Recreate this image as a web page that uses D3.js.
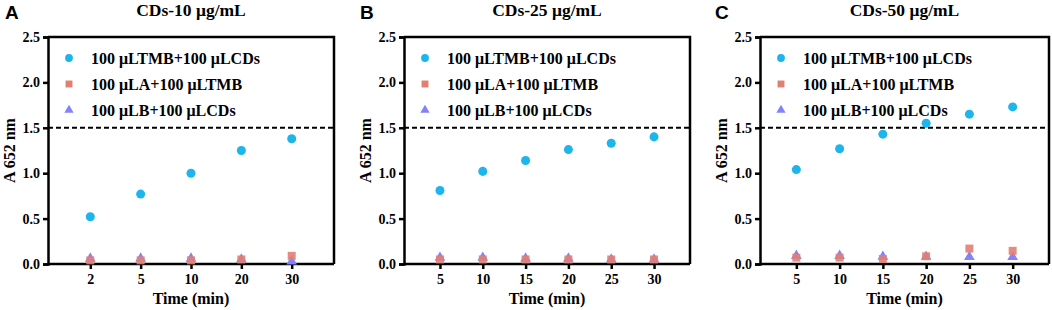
<!DOCTYPE html>
<html>
<head>
<meta charset="utf-8">
<script src="https://cdn.jsdelivr.net/npm/d3@7/dist/d3.min.js"></script>
<style>
  body { margin: 0; background: #fff; }
  svg text { font-family: "Liberation Serif", "Times New Roman", serif; font-weight: bold; fill: #000; }
</style>
</head>
<body>
<svg id="chart" width="1052" height="310"></svg>
<script>
// panel data
const panelLetters = ["A", "B", "C"];
const panelTitles = ["CDs-10 μg/mL", "CDs-25 μg/mL", "CDs-50 μg/mL"];
const timesA = ["2", "5", "10", "20", "30"];
const timesB = ["5", "10", "15", "20", "25", "30"];
const timesC = ["5", "10", "15", "20", "25", "30"];

const tmbCdsA = [0.52, 0.77, 1.00, 1.25, 1.38];
const laTmbA  = [0.04, 0.04, 0.04, 0.05, 0.09];
const lbCdsA  = [0.06, 0.06, 0.06, 0.05, 0.03];

const tmbCdsB = [0.81, 1.02, 1.14, 1.26, 1.33, 1.40];
const laTmbB  = [0.05, 0.05, 0.05, 0.05, 0.05, 0.05];
const lbCdsB  = [0.07, 0.07, 0.06, 0.06, 0.05, 0.05];

const tmbCdsC = [1.04, 1.27, 1.43, 1.55, 1.65, 1.73];
const laTmbC  = [0.07, 0.07, 0.055, 0.085, 0.17, 0.145];
const lbCdsC  = [0.09, 0.09, 0.08, 0.08, 0.077, 0.077];

const seriesNames = ["100 μLTMB+100 μLCDs", "100 μLA+100 μLTMB", "100 μLB+100 μLCDs"];
const yTicks = [0.0, 0.5, 1.0, 1.5, 2.0, 2.5];
const thresholdValue = 1.5;

const colors = ["#1cb5ec", "#e17f73", "#8282fa"];
const symbols = [d3.symbolCircle, d3.symbolSquare, d3.symbolTriangle];
const symbolSizes = [64, 64, 50];

const panels = [
    {times: timesA, values: [tmbCdsA, laTmbA, lbCdsA], left: 48, right: 334, letterX: 5},
    {times: timesB, values: [tmbCdsB, laTmbB, lbCdsB], left: 404, right: 690, letterX: 360},
    {times: timesC, values: [tmbCdsC, laTmbC, lbCdsC], left: 760, right: 1049, letterX: 715}
];
const plotTop = 37, plotBottom = 264;

const svg = d3.select("#chart");

panels.forEach((p, pi) => {
    const g = svg.append("g");
    const x = d3.scalePoint().domain(p.times).range([p.left, p.right]).padding(0.84);
    const y = d3.scaleLinear().domain([0, 2.5]).range([plotBottom, plotTop]);

    // panel letter
    g.append("text")
        .attr("x", p.letterX)
        .attr("y", 19)
        .style("font-family", "'Liberation Sans', Arial, sans-serif")
        .attr("font-size", 19)
        .text(panelLetters[pi]);

    // title
    g.append("text")
        .attr("x", (p.left + p.right) / 2)
        .attr("y", 16)
        .attr("text-anchor", "middle")
        .attr("font-size", 17.5)
        .text(panelTitles[pi]);

    // frame top / right
    g.append("path")
        .attr("d", `M${p.left},${plotTop}H${p.right}V${plotBottom}`)
        .attr("fill", "none")
        .attr("stroke", "#000")
        .attr("stroke-width", 2.5);

    // y axis
    const yAxis = g.append("g")
        .attr("transform", `translate(${p.left},0)`)
        .call(d3.axisLeft(y).tickValues(yTicks).tickFormat(d3.format(".1f")).tickSize(5).tickPadding(3));
    yAxis.select(".domain").attr("stroke-width", 2.5);
    yAxis.selectAll(".tick line").attr("stroke-width", 2.5);
    yAxis.selectAll("text").attr("font-size", 14);

    // x axis
    const xAxis = g.append("g")
        .attr("transform", `translate(0,${plotBottom})`)
        .call(d3.axisBottom(x).tickSize(5).tickPadding(5).tickSizeOuter(0));
    xAxis.select(".domain").attr("stroke-width", 2.5)
        .attr("d", `M${p.left},0H${p.right}`);
    xAxis.selectAll(".tick line").attr("stroke-width", 2.5);
    xAxis.selectAll("text").attr("font-size", 14);

    // axis titles
    g.append("text")
        .attr("transform", `translate(${p.left - 33},${(plotTop + plotBottom) / 2}) rotate(-90)`)
        .attr("text-anchor", "middle")
        .attr("font-size", 16)
        .text("A 652 nm");

    g.append("text")
        .attr("x", (p.left + p.right) / 2)
        .attr("y", 304)
        .attr("text-anchor", "middle")
        .attr("font-size", 16)
        .text("Time (min)");

    // dashed threshold line
    g.append("line")
        .attr("x1", p.left).attr("x2", p.right)
        .attr("y1", y(thresholdValue)).attr("y2", y(thresholdValue))
        .attr("stroke", "#000")
        .attr("stroke-width", 2)
        .attr("stroke-dasharray", "5,3");

    // points: circles, triangles then squares on top
    [0, 2, 1].forEach((si) => {
        g.append("g").selectAll("path")
            .data(p.values[si])
            .enter()
            .append("path")
            .attr("d", d3.symbol().type(symbols[si]).size(symbolSizes[si]))
            .attr("transform", (d, i) => "translate(" + x(p.times[i]) + "," + y(d) + ")")
            .attr("fill", colors[si])
            .attr("opacity", si === 1 ? 0.9 : 1);
    });

    // legend
    const legend = g.append("g")
        .selectAll("g")
        .data(seriesNames)
        .enter()
        .append("g")
        .attr("transform", (d, i) => "translate(" + (p.left + 21) + "," + (58 + i * 26) + ")");
    legend.append("path")
        .attr("d", (d, i) => d3.symbol().type(symbols[i]).size(symbolSizes[i] * 0.75)())
        .attr("fill", (d, i) => colors[i]);
    legend.append("text")
        .attr("x", 22)
        .attr("dy", "0.35em")
        .attr("font-size", 16)
        .text((d) => d);
});
</script>
</body>
</html>
